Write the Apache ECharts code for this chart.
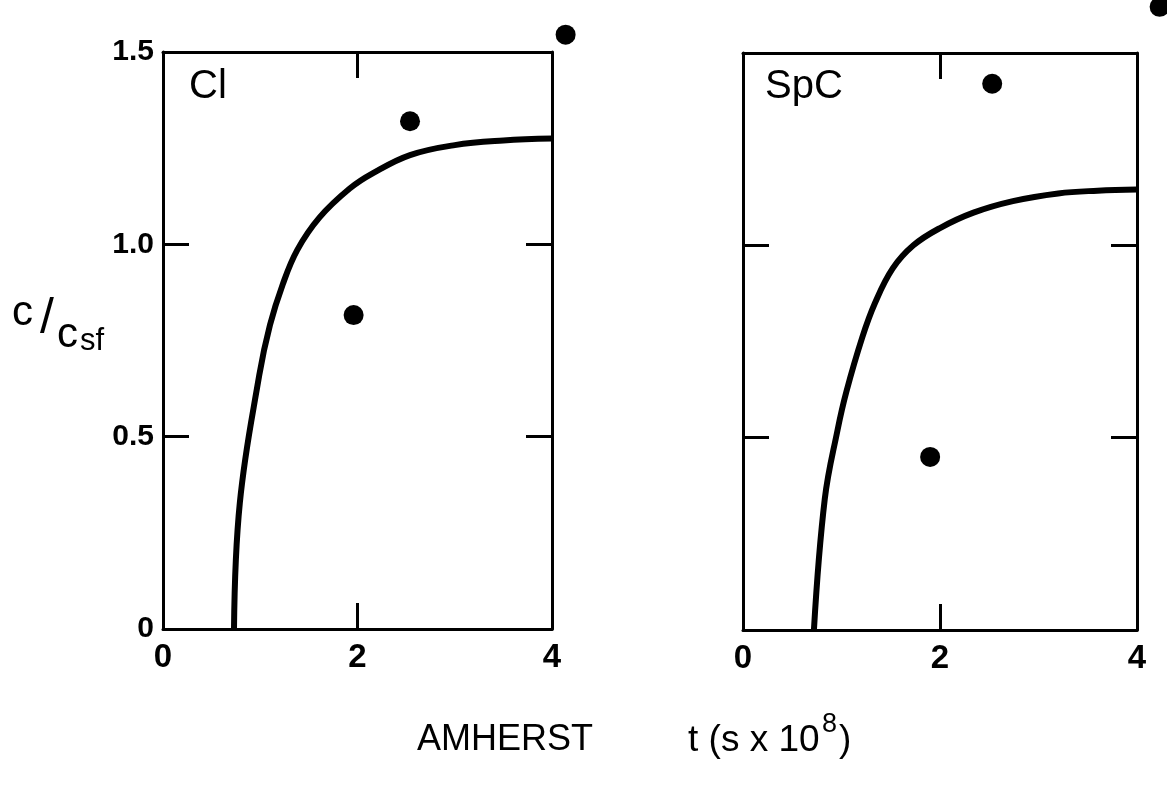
<!DOCTYPE html>
<html><head><meta charset="utf-8">
<script src="https://cdn.jsdelivr.net/npm/echarts@6/dist/echarts.min.js"></script>
<style>html,body{margin:0;padding:0;background:#fff}#c{width:1167px;height:787px}</style>
</head><body><div id="c"></div>
<script>
// ---- data ----
const panelNames = ['Cl', 'SpC'];
const clCurveX = [0.73, 0.79, 0.99, 1.10, 1.23, 1.38, 1.61, 1.92, 2.16, 2.54, 3.0, 3.5, 4.0];
const clCurveY = [0, 0.328, 0.66, 0.79, 0.895, 0.985, 1.07, 1.145, 1.185, 1.232, 1.258, 1.27, 1.275];
const clPointsX = [1.96, 2.54, 4.14];
const clPointsY = [0.816, 1.32, 1.545];
const spcCurveX = [0.72, 0.83, 0.96, 1.05, 1.21, 1.34, 1.52, 1.73, 2.0, 2.34, 2.74, 3.2, 3.6, 4.0];
const spcCurveY = [0, 0.34, 0.52, 0.62, 0.76, 0.85, 0.94, 1.00, 1.045, 1.085, 1.115, 1.135, 1.142, 1.145];
const spcPointsX = [1.90, 2.53, 4.23];
const spcPointsY = [0.45, 1.42, 1.62];
const xTickValues = [0, 2, 4];
const xTickLabels = ['0', '2', '4'];
const yTickValues = [0, 0.5, 1.0, 1.5];
const yTickLabels = ['0', '0.5', '1.0', '1.5'];
const xTitleMain = 'AMHERST';
const xTitleUnit = 't (s x 10';
const xTitleSup = '8';
const xTitleEnd = ')';

// ---- build ----
const zip = (xs, ys) => xs.map((x, i) => [x, ys[i]]);
const FONT = 'Liberation Sans';
const lineStyle = { color: '#000', width: 3 };
const tickStyle = { show: true, inside: true, length: 26, lineStyle: { color: '#000', width: 3 } };

function xAx(grid, pos, labels) {
  return {
    type: 'value', gridIndex: grid, position: pos, min: 0, max: 4, interval: 2,
    axisLine: { show: true, onZero: false, lineStyle },
    axisTick: tickStyle, splitLine: { show: false },
    axisLabel: labels ? {
      show: true, margin: 12, color: '#000', fontFamily: FONT, fontWeight: 'bold', fontSize: 33,
      showMinLabel: true, showMaxLabel: true,
      formatter: v => { const i = xTickValues.indexOf(v); return i >= 0 ? xTickLabels[i] : ''; }
    } : { show: false }
  };
}
function yAx(grid, pos, labels) {
  return {
    type: 'value', gridIndex: grid, position: pos, min: 0, max: 1.5, interval: 0.5,
    axisLine: { show: true, onZero: false, lineStyle },
    axisTick: tickStyle, splitLine: { show: false },
    axisLabel: labels ? {
      show: true, margin: 9, color: '#000', fontFamily: FONT, fontWeight: 'bold', fontSize: 30,
      showMinLabel: true, showMaxLabel: true,
      formatter: v => { const i = yTickValues.findIndex(t => Math.abs(t - v) < 1e-9); return i >= 0 ? yTickLabels[i] : ''; }
    } : { show: false }
  };
}

const option = {
  backgroundColor: '#fff',
  animation: false,
  grid: [
    { left: 163, top: 52, width: 389, height: 577 },
    { left: 743, top: 53, width: 394, height: 577 }
  ],
  xAxis: [xAx(0, 'bottom', true), xAx(0, 'top', false), xAx(1, 'bottom', true), xAx(1, 'top', false)],
  yAxis: [yAx(0, 'left', true), yAx(0, 'right', false), yAx(1, 'left', false), yAx(1, 'right', false)],
  series: [
    { type: 'line', xAxisIndex: 0, yAxisIndex: 0, data: zip(clCurveX, clCurveY), showSymbol: false,
      smooth: 0.4, lineStyle: { color: '#000', width: 6 } },
    { type: 'scatter', xAxisIndex: 0, yAxisIndex: 0, data: zip(clPointsX, clPointsY), clip: false,
      symbol: 'circle', symbolSize: 20, itemStyle: { color: '#000', opacity: 1 } },
    { type: 'line', xAxisIndex: 2, yAxisIndex: 2, data: zip(spcCurveX, spcCurveY), showSymbol: false,
      smooth: 0.4, lineStyle: { color: '#000', width: 6 } },
    { type: 'scatter', xAxisIndex: 2, yAxisIndex: 2, data: zip(spcPointsX, spcPointsY), clip: false,
      symbol: 'circle', symbolSize: 20, itemStyle: { color: '#000', opacity: 1 } }
  ],
  graphic: [
    { type: 'text', left: 189, top: 67, style: { text: panelNames[0], fontFamily: FONT, fontSize: 40, fill: '#000' } },
    { type: 'text', left: 765, top: 67, style: { text: panelNames[1], fontFamily: FONT, fontSize: 40, fill: '#000' } },
    // y-axis title c/c_sf
    { type: 'text', x: 12, y: 292, style: { text: 'c', fontFamily: FONT, fontSize: 42, fill: '#000' } },
    { type: 'text', x: 40, y: 294, style: { text: '/', fontFamily: FONT, fontSize: 50, fill: '#000' } },
    { type: 'text', x: 57, y: 314, style: { text: 'c', fontFamily: FONT, fontSize: 42, fill: '#000' } },
    { type: 'text', x: 80, y: 326, style: { text: 'sf', fontFamily: FONT, fontSize: 31, fill: '#000' } },
    // x title
    { type: 'text', x: 417, y: 722, style: { text: xTitleMain, fontFamily: FONT, fontSize: 36, fill: '#000' } },
    { type: 'text', x: 688, y: 722, style: { text: xTitleUnit, fontFamily: FONT, fontSize: 37, fill: '#000' } },
    { type: 'text', x: 822, y: 711, style: { text: xTitleSup, fontFamily: FONT, fontSize: 27, fill: '#000' } },
    { type: 'text', x: 839, y: 722, style: { text: xTitleEnd, fontFamily: FONT, fontSize: 37, fill: '#000' } }
  ]
};
const chart = echarts.init(document.getElementById('c'), null, { renderer: 'canvas' });
chart.setOption(option);
</script>
</body></html>
